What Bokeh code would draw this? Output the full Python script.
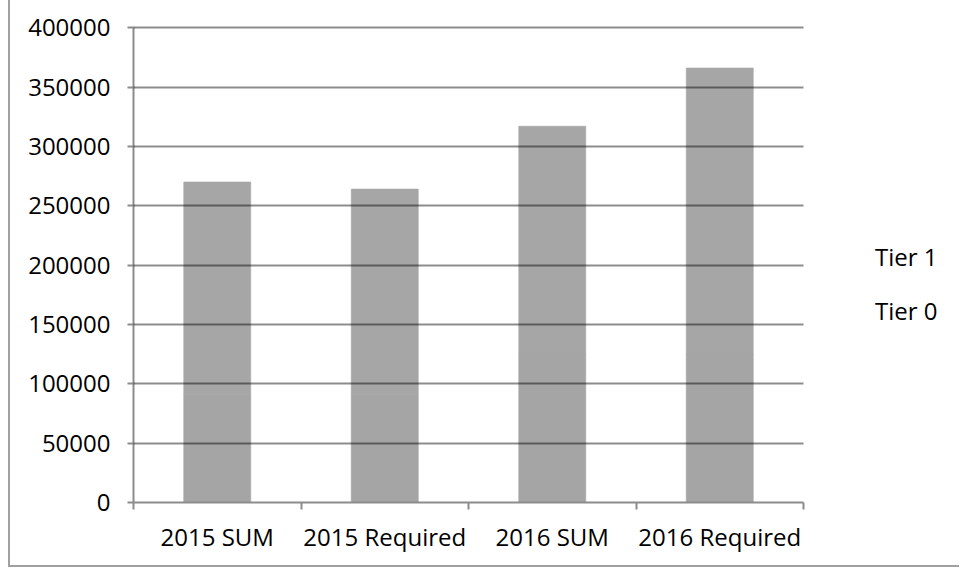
from bokeh.plotting import figure
from bokeh.models import (ColumnDataSource, FixedTicker, Legend, LegendItem, Range1d)
from bokeh.embed import file_html
from bokeh.resources import INLINE

categories = ["2015 SUM", "2015 Required", "2016 SUM", "2016 Required"]
tier0 = [91000, 91000, 125000, 125000]
tier1 = [179000, 173000, 192000, 241000]
series_names = ["Tier 0", "Tier 1"]
y_ticks = [0, 50000, 100000, 150000, 200000, 250000, 300000, 350000, 400000]

FONT = "Open Sans"
n = len(categories)
xpos = [i + 0.5 for i in range(n)]
src = ColumnDataSource(dict(x=xpos, cat=categories, tier0=tier0, tier1=tier1))

FRAME_W = 951 - 123          # frame spans to the right edge
AXIS_W = 670                 # pixel extent of the category axis
x_end = n * FRAME_W / AXIS_W

p = figure(width=951, height=567, output_backend="svg", toolbar_location=None,
           x_range=Range1d(0, x_end), y_range=Range1d(0, 401000),
           min_border_left=123, min_border_right=0, min_border_top=26,
           min_border_bottom=65,
           styles={"margin-left": "8px", "border-left": "2px solid #a0a0a0",
                   "border-bottom": "2px solid #a0a0a0"})
p.outline_line_color = None
p.background_fill_color = "white"
p.border_fill_color = "white"

bar_colors = ["#a5a5a5", "#a6a6a6"]
rs = p.vbar_stack(["tier0", "tier1"], x="x", width=0.4, source=src,
                  fill_color=bar_colors, line_color=bar_colors, line_width=0.6)

# axes
p.xaxis.bounds = (0, n)
p.xaxis.ticker = FixedTicker(ticks=xpos, minor_ticks=list(range(n + 1)))
p.xaxis.major_label_overrides = {x: c for x, c in zip(xpos, categories)}
p.xaxis.major_tick_out = 0
p.xaxis.major_tick_in = 0
p.xaxis.minor_tick_out = 7
p.xaxis.minor_tick_in = 0
p.xaxis.minor_tick_line_color = "#8c8c8c"
p.xaxis.minor_tick_line_width = 2
p.xaxis.major_label_standoff = 10

p.yaxis.bounds = (0, 400000)
p.yaxis.ticker = FixedTicker(ticks=y_ticks, minor_ticks=[])
p.yaxis.formatter.use_scientific = False
p.yaxis.major_tick_out = 6
p.yaxis.major_tick_in = 0
p.yaxis.major_tick_line_color = "#8c8c8c"
p.yaxis.major_tick_line_width = 2
p.yaxis.major_label_standoff = 17

for ax in (p.xaxis, p.yaxis):
    ax.axis_line_color = "#8c8c8c"
    ax.axis_line_width = 2
    ax.major_label_text_font = FONT
    ax.major_label_text_font_size = "24px"
    ax.major_label_text_color = "black"

p.xgrid.visible = False
p.ygrid.ticker = FixedTicker(ticks=y_ticks[1:])
p.ygrid.cross_bounds = (0, n)
p.ygrid.grid_line_color = "black"
p.ygrid.grid_line_alpha = 0.45
p.ygrid.grid_line_width = 2
p.ygrid.level = "overlay"

legend = Legend(items=[LegendItem(label=series_names[1], renderers=[rs[1]]),
                       LegendItem(label=series_names[0], renderers=[rs[0]])],
                location=(742, 175), glyph_width=0, glyph_height=34,
                label_height=34, label_standoff=0, spacing=20, padding=0,
                margin=0, border_line_color=None, background_fill_alpha=0,
                label_text_font=FONT, label_text_font_size="24px",
                label_text_color="black")
p.add_layout(legend)

open("out.html", "w").write(file_html(p, INLINE))
